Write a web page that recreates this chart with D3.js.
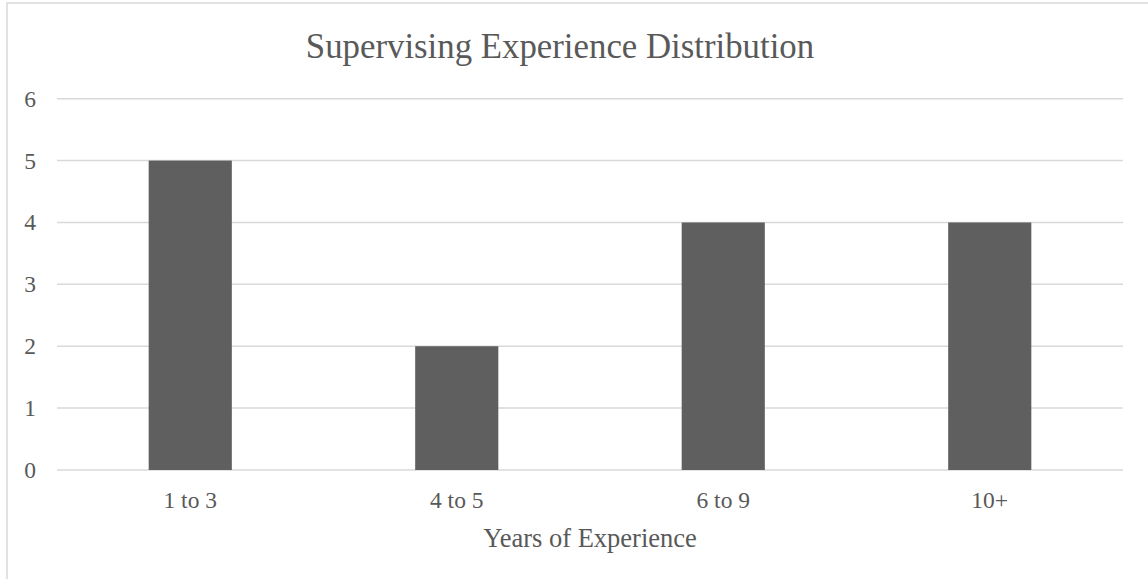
<!DOCTYPE html>
<html>
<head>
<meta charset="utf-8">
<script src="https://d3js.org/d3.v7.min.js"></script>
<style>
  html, body { margin: 0; padding: 0; background: #fff; }
  text { font-family: "Liberation Serif", "Times New Roman", serif; fill: #595959; }
</style>
</head>
<body>
<div id="chart"></div>
<script>
// Chart data
var categories = ["1 to 3", "4 to 5", "6 to 9", "10+"];
var counts = [5, 2, 4, 4];
var yTicks = [0, 1, 2, 3, 4, 5, 6];

var chartTitle = "Supervising Experience Distribution";
var xTitle = "Years of Experience";

function init() {
    var w = 1148, h = 579;
    var plot = { left: 57, right: 1123, top: 98.7, bottom: 470 };

    var svg = d3.select("#chart")
        .append("svg")
        .attr("width", w)
        .attr("height", h);

    // Chart border (only top and left edges are inside the picture)
    svg.append("path")
        .attr("d", "M7,600 L7,3 L1160,3")
        .attr("fill", "none")
        .attr("stroke", "#d9d9d9")
        .attr("stroke-width", 1.5);

    var xScale = d3.scaleBand()
        .domain(categories)
        .range([plot.left, plot.right])
        .padding(0);

    var yScale = d3.scaleLinear()
        .domain([0, 6])
        .range([plot.bottom, plot.top]);

    var barW = xScale.bandwidth() * 0.312;

    // Gridlines
    svg.append("g")
        .selectAll("line")
        .data(yTicks)
        .enter()
        .append("line")
        .attr("x1", plot.left)
        .attr("x2", plot.right)
        .attr("y1", function(d) { return yScale(d); })
        .attr("y2", function(d) { return yScale(d); })
        .attr("stroke", "#d9d9d9")
        .attr("stroke-width", 1.5);

    // Y tick labels
    svg.append("g")
        .selectAll("text")
        .data(yTicks)
        .enter()
        .append("text")
        .attr("x", 36)
        .attr("y", function(d) { return yScale(d); })
        .attr("dy", "0.34em")
        .attr("text-anchor", "end")
        .style("font-size", "23.5px")
        .text(function(d) { return d; });

    // Bars
    svg.append("g")
        .selectAll("rect")
        .data(counts)
        .enter()
        .append("rect")
        .attr("x", function(d, i) { return xScale(categories[i]) + xScale.bandwidth() / 2 - barW / 2; })
        .attr("y", function(d) { return yScale(d); })
        .attr("width", barW)
        .attr("height", function(d) { return yScale(0) - yScale(d); })
        .attr("fill", "#5f5f5f");

    // X category labels
    svg.append("g")
        .selectAll("text")
        .data(categories)
        .enter()
        .append("text")
        .attr("x", function(d) { return xScale(d) + xScale.bandwidth() / 2; })
        .attr("y", 507.5)
        .attr("text-anchor", "middle")
        .style("font-size", "23.5px")
        .text(function(d) { return d; });

    // Axis title
    svg.append("text")
        .attr("x", (plot.left + plot.right) / 2)
        .attr("y", 547)
        .attr("text-anchor", "middle")
        .style("font-size", "26.5px")
        .text(xTitle);

    // Chart title
    svg.append("text")
        .attr("x", 560)
        .attr("y", 58)
        .attr("text-anchor", "middle")
        .style("font-size", "34.8px")
        .text(chartTitle);
}

window.onload = init;
</script>
</body>
</html>
